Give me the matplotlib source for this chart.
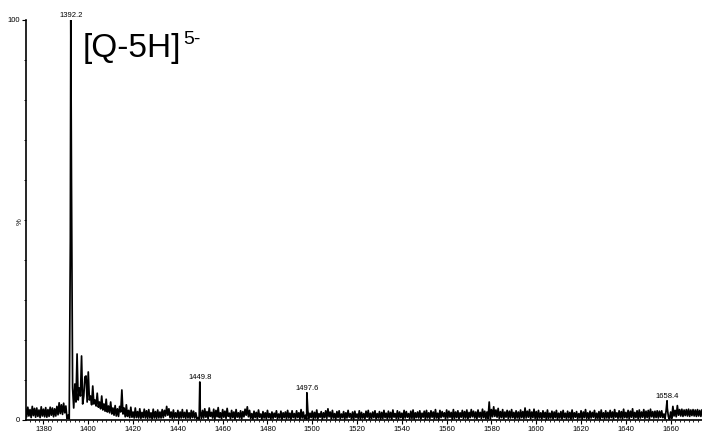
#!/usr/bin/env python3
"""Negative-mode ESI spectrum of the [Q-5H]5- charge state."""

import matplotlib
matplotlib.use("Agg")
import matplotlib.pyplot as plt
import numpy as np
from matplotlib.ticker import MultipleLocator, FixedLocator

plt.rcParams["font.family"] = ["Liberation Sans", "DejaVu Sans"]

# profile trace (relative intensity, %), read at whole m/z 1372..1674
mz_first, mz_last = 1372, 1674
int_whole = [
    2.8, 3.2, 2.6, 3.4, 2.9, 3.0, 2.5, 3.3, 2.7, 3.1, 2.6, 3.2, 3.0, 2.8, 3.4, 4.3, 3.8, 4.2, 3.5, 1.2,
    45.0, 8.0, 9.0, 16.5, 8.0, 16.0, 6.0, 11.0, 12.0, 6.0, 8.5, 5.0, 6.7, 4.5, 6.0, 4.0, 5.2, 3.5, 4.5, 3.0,
    3.6, 2.8, 3.4, 7.5, 3.0, 3.8, 2.4, 3.2, 2.0, 3.0, 2.1, 2.8, 1.9, 2.7, 2.3, 2.6, 1.8, 2.7, 2.1, 2.5,
    2.0, 2.6, 2.4, 3.4, 2.8, 2.0, 2.5, 1.8, 2.4, 2.0, 2.6, 1.9, 2.5, 1.8, 2.4, 2.2, 1.8, 0.6, 2.2, 2.4,
    2.8, 2.1, 3.0, 1.9, 2.7, 2.4, 3.1, 1.8, 2.6, 2.2, 2.9, 1.7, 2.4, 2.0, 2.6, 1.8, 2.3, 2.1, 2.7, 3.3,
    2.4, 1.6, 2.2, 1.9, 2.5, 1.5, 2.1, 1.8, 2.4, 1.6, 2.0, 1.7, 2.3, 1.5, 2.2, 1.8, 2.0, 2.4, 1.7, 2.3,
    1.6, 2.3, 1.8, 2.6, 2.0, 1.2, 2.4, 1.7, 2.2, 1.9, 2.5, 1.6, 2.1, 1.8, 2.3, 2.8, 2.0, 2.4, 1.6, 2.1,
    2.3, 1.5, 2.1, 1.8, 2.4, 1.6, 2.0, 2.2, 1.5, 2.3, 1.9, 1.6, 2.2, 2.4, 1.7, 2.0, 2.3, 1.6, 2.1, 1.9,
    2.4, 1.7, 2.2, 1.9, 2.5, 1.6, 2.3, 2.0, 1.7, 2.4, 2.1, 1.6, 2.2, 2.5, 1.8, 2.0, 2.3, 1.7, 2.2, 2.4,
    1.8, 2.3, 2.0, 2.6, 1.7, 2.4, 2.1, 1.8, 2.5, 2.2, 1.9, 2.6, 2.0, 2.3, 1.8, 2.4, 2.1, 2.5, 1.9, 2.6,
    2.2, 2.0, 2.5, 1.9, 2.7, 2.2, 2.0, 4.5, 2.6, 3.3, 2.5, 2.9, 2.1, 2.6, 2.0, 2.4, 2.2, 2.6, 1.9, 2.3,
    2.0, 2.5, 2.1, 3.0, 2.2, 2.6, 2.0, 2.7, 2.1, 2.4, 1.8, 2.3, 1.9, 2.5, 1.7, 2.2, 2.0, 2.4, 1.7, 2.1,
    2.4, 1.7, 2.2, 1.9, 2.5, 1.8, 2.1, 1.6, 2.3, 2.0, 2.6, 1.8, 2.2, 1.9, 2.4, 1.7, 2.1, 2.5, 1.8, 2.3,
    1.9, 2.4, 2.0, 2.6, 1.8, 2.3, 2.1, 2.7, 1.9, 2.4, 2.2, 2.8, 1.9, 2.3, 2.5, 2.0, 2.6, 2.2, 2.4, 2.7,
    2.1, 2.2, 2.3, 2.2, 2.3, 1.5, 2.5, 0.8, 2.0, 3.4, 2.4, 3.6, 2.6, 2.7, 2.5, 2.6, 2.7, 2.5, 2.6, 2.5,
    2.6, 2.4, 2.5,
]

# same trace at the half-unit points 1372.5..1673.5
int_half = [
    0.8, 1.0, 0.6, 1.1, 0.7, 0.9, 0.6, 1.0, 0.8, 0.7, 0.9, 1.2, 0.8, 1.0, 1.3, 1.6, 1.4, 1.8, 0.4, 0.3,
    60.0, 3.0, 4.5, 5.0, 6.0, 4.0, 10.8, 4.5, 5.0, 3.8, 4.0, 3.5, 3.2, 2.8, 2.5, 2.2, 2.0, 1.8, 1.5, 1.2,
    1.0, 0.9, 2.0, 1.5, 0.8, 0.9, 0.6, 0.7, 0.5, 0.6, 0.5, 0.4, 0.6, 0.5, 0.4, 0.5, 0.3, 0.5, 0.4, 0.5,
    0.5, 0.6, 1.0, 1.2, 0.6, 0.4, 0.5, 0.6, 0.4, 0.5, 0.6, 0.4, 0.5, 0.4, 0.6, 0.5, 0.3, 0.2, 0.4, 0.5,
    0.7, 0.3, 0.9, 0.5, 0.2, 0.8, 0.6, 0.3, 0.7, 0.4, 0.9, 0.3, 0.6, 0.2, 0.7, 0.5, 0.3, 0.8, 1.2, 0.8,
    0.4, 0.2, 0.6, 0.3, 0.7, 0.2, 0.5, 0.3, 0.6, 0.2, 0.4, 0.7, 0.3, 0.5, 0.2, 0.6, 0.3, 0.5, 0.2, 0.6,
    0.3, 0.6, 0.2, 0.5, 0.3, 0.2, 0.3, 0.6, 0.2, 0.5, 0.3, 0.7, 0.2, 0.6, 0.4, 0.8, 0.3, 0.5, 0.2, 0.6,
    0.3, 0.6, 0.2, 0.5, 0.7, 0.3, 0.2, 0.6, 0.4, 0.2, 0.5, 0.3, 0.7, 0.2, 0.4, 0.6, 0.3, 0.5, 0.2, 0.4,
    0.6, 0.3, 0.5, 0.2, 0.7, 0.4, 0.3, 0.6, 0.2, 0.5, 0.7, 0.3, 0.4, 0.2, 0.6, 0.5, 0.3, 0.7, 0.2, 0.5,
    0.4, 0.7, 0.3, 0.5, 0.2, 0.6, 0.8, 0.3, 0.5, 0.7, 0.2, 0.4, 0.6, 0.3, 0.7, 0.4, 0.5, 0.3, 0.6, 0.8,
    0.5, 0.3, 0.7, 0.4, 0.6, 0.3, 0.4, 0.2, 0.8, 0.9, 0.7, 0.4, 0.6, 0.3, 0.7, 0.4, 0.5, 0.6, 0.3, 0.5,
    0.3, 0.6, 0.4, 0.5, 0.7, 0.3, 0.6, 0.4, 0.2, 0.5, 0.3, 0.6, 0.2, 0.4, 0.5, 0.3, 0.6, 0.2, 0.5, 0.3,
    0.6, 0.3, 0.5, 0.2, 0.4, 0.7, 0.3, 0.5, 0.2, 0.6, 0.4, 0.3, 0.5, 0.7, 0.3, 0.4, 0.2, 0.6, 0.3, 0.5,
    0.4, 0.6, 0.3, 0.7, 0.4, 0.5, 0.3, 0.6, 0.5, 0.3, 0.7, 0.4, 0.6, 0.3, 0.5, 0.7, 0.4, 0.6, 0.3, 0.8,
    0.5, 0.6, 0.5, 0.7, 0.6, 0.3, 3.0, 0.2, 0.4, 1.0, 0.8, 1.2, 1.0, 0.9, 1.1, 1.0, 0.9, 1.1, 1.0, 0.9,
    1.0, 0.9,
]

# labelled apexes
peak_mz = [1392.2, 1449.8, 1497.6, 1658.4]
peak_int = [100.0, 9.5, 6.8, 4.8]

ion_label = "[Q-5H]"
ion_charge = "5-"

mz_whole = np.arange(mz_first, mz_last + 1, dtype=float)
mz_half = mz_whole[:-1] + 0.5
assert len(mz_whole) == len(int_whole) and len(mz_half) == len(int_half)

mz = np.concatenate([mz_whole, mz_half, peak_mz])
inten = np.concatenate([int_whole, int_half, peak_int])
order = np.argsort(mz)
mz, inten = mz[order], inten[order]

fig = plt.figure(figsize=(7.02, 4.34), dpi=100)
ax = fig.add_axes([26 / 702, 14 / 434, 676 / 702, 400 / 434])

ax.plot(mz, inten, color="black", lw=1.25)

for x, y in zip(peak_mz, peak_int):
    ax.annotate(f"{x:.1f}", xy=(x, y), xytext=(0, 0.8), textcoords="offset points",
                ha="center", va="bottom", fontsize=5.5, annotation_clip=False)

t1 = ax.text(1397.6, 90.8, ion_label, fontsize=24, va="baseline", ha="left")
ax.annotate(ion_charge, xy=(1, 1), xycoords=t1, xytext=(1, 1.5), textcoords="offset points",
            ha="left", va="top", fontsize=14)

ax.text(-6 / 676, 0.495, "%", transform=ax.transAxes, rotation=90,
        ha="center", va="center", fontsize=5.5)

ax.set_xlim(1372.2, 1674.0)
ax.set_ylim(0, 100)

for side in ("top", "right"):
    ax.spines[side].set_visible(False)
for side in ("left", "bottom"):
    ax.spines[side].set_linewidth(1.2)

ax.set_xticks(np.arange(1380, 1661, 20))
ax.xaxis.set_minor_locator(MultipleLocator(2))
ax.yaxis.set_major_locator(FixedLocator([0, 100]))
ax.yaxis.set_minor_locator(MultipleLocator(10))
ax.tick_params(axis="both", which="major", labelsize=5.5, length=3, width=0.8, pad=1.2)
ax.tick_params(axis="both", which="minor", length=1.6, width=0.6)

fig.savefig("out.png", dpi=100)
